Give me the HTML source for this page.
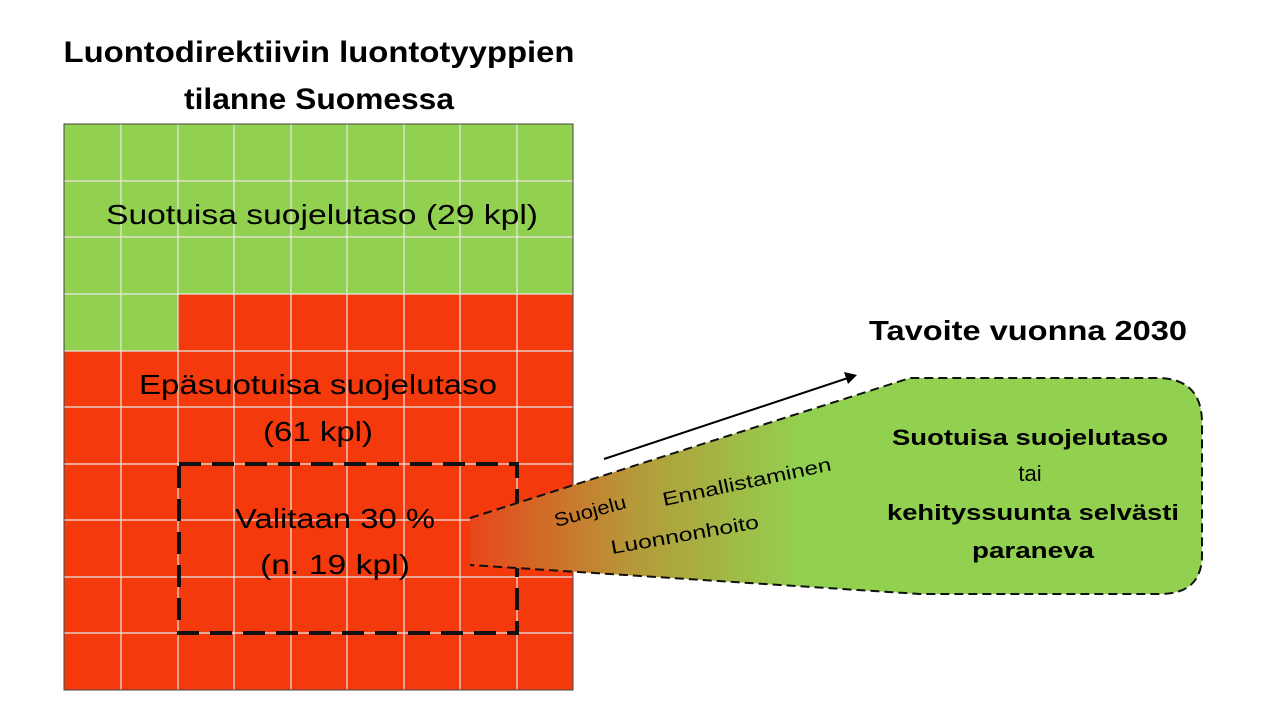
<!DOCTYPE html>
<html><head><meta charset="utf-8"><style>
html,body{margin:0;padding:0;background:#fff;}
svg{display:block;font-family:"Liberation Sans",sans-serif;}
</style></head><body>
<svg width="1280" height="720" viewBox="0 0 1280 720" xmlns="http://www.w3.org/2000/svg">
<defs>
<linearGradient id="g" x1="470" y1="0" x2="800" y2="0" gradientUnits="userSpaceOnUse">
<stop offset="0" stop-color="#e8461a"/>
<stop offset="0.5" stop-color="#b59a3a"/>
<stop offset="1" stop-color="#92d050"/>
</linearGradient>
</defs>
<text x="319" y="62" font-size="30" font-weight="bold" text-anchor="middle" textLength="511" lengthAdjust="spacingAndGlyphs">Luontodirektiivin luontotyyppien</text>
<text x="319" y="109" font-size="30" font-weight="bold" text-anchor="middle" textLength="270" lengthAdjust="spacingAndGlyphs">tilanne Suomessa</text>
<rect x="64" y="124" width="509" height="566" fill="#f4390d"/>
<rect x="64" y="124" width="509" height="170" fill="#92d050"/>
<rect x="64" y="294" width="114" height="57" fill="#92d050"/>
<g stroke="#e8e8e8" stroke-width="1.2">
<line x1="121" y1="124" x2="121" y2="690"/><line x1="178" y1="124" x2="178" y2="690"/>
<line x1="234" y1="124" x2="234" y2="690"/><line x1="291" y1="124" x2="291" y2="690"/>
<line x1="347" y1="124" x2="347" y2="690"/><line x1="404" y1="124" x2="404" y2="690"/>
<line x1="460" y1="124" x2="460" y2="690"/><line x1="517" y1="124" x2="517" y2="690"/>
<line x1="64" y1="181" x2="573" y2="181"/><line x1="64" y1="237" x2="573" y2="237"/>
<line x1="64" y1="294" x2="573" y2="294"/><line x1="64" y1="351" x2="573" y2="351"/>
<line x1="64" y1="407" x2="573" y2="407"/><line x1="64" y1="464" x2="573" y2="464"/>
<line x1="64" y1="520" x2="573" y2="520"/><line x1="64" y1="577" x2="573" y2="577"/>
<line x1="64" y1="633" x2="573" y2="633"/>
</g>
<rect x="64" y="124" width="509" height="566" fill="none" stroke="#444" stroke-width="1"/>
<text x="322" y="224" font-size="28" text-anchor="middle" textLength="432" lengthAdjust="spacingAndGlyphs">Suotuisa suojelutaso (29 kpl)</text>
<text x="318" y="394" font-size="28" text-anchor="middle" textLength="358" lengthAdjust="spacingAndGlyphs">Epäsuotuisa suojelutaso</text>
<text x="318" y="441" font-size="28" text-anchor="middle" textLength="110" lengthAdjust="spacingAndGlyphs">(61 kpl)</text>
<text x="335" y="528" font-size="28" text-anchor="middle" textLength="200" lengthAdjust="spacingAndGlyphs">Valitaan 30 %</text>
<text x="335" y="574" font-size="28" text-anchor="middle" textLength="150" lengthAdjust="spacingAndGlyphs">(n. 19 kpl)</text>
<rect x="179" y="464" width="338" height="169" fill="none" stroke="#111" stroke-width="4" stroke-dasharray="22,11"/>
<path d="M470,518 L910,378 L1157,378 Q1202,378 1202,423 L1202,555 Q1202,594 1160,594 L920,594 L470,565 Z" fill="url(#g)"/>
<path d="M470,518 L910,378 L1157,378 Q1202,378 1202,423 L1202,555 Q1202,594 1160,594 L920,594 L470,565" fill="none" stroke="#111" stroke-width="2" stroke-dasharray="9,5"/>
<line x1="604" y1="459" x2="848" y2="378" stroke="#000" stroke-width="2"/>
<polygon points="857,375 844,372 848,384" fill="#000"/>
<text x="1028" y="340" font-size="28" font-weight="bold" text-anchor="middle" textLength="318" lengthAdjust="spacingAndGlyphs">Tavoite vuonna 2030</text>
<text x="1030" y="445" font-size="22" font-weight="bold" text-anchor="middle" textLength="276" lengthAdjust="spacingAndGlyphs">Suotuisa suojelutaso</text>
<text x="1030" y="481" font-size="22" text-anchor="middle">tai</text>
<text x="1033" y="520" font-size="22" font-weight="bold" text-anchor="middle" textLength="292" lengthAdjust="spacingAndGlyphs">kehityssuunta selvästi</text>
<text x="1033" y="558" font-size="22" font-weight="bold" text-anchor="middle" textLength="122" lengthAdjust="spacingAndGlyphs">paraneva</text>
<text transform="translate(556,527) rotate(-15)" font-size="19" textLength="74" lengthAdjust="spacingAndGlyphs">Suojelu</text>
<text transform="translate(664,506) rotate(-12)" font-size="19" textLength="172" lengthAdjust="spacingAndGlyphs">Ennallistaminen</text>
<text transform="translate(612,554) rotate(-10)" font-size="19" textLength="150" lengthAdjust="spacingAndGlyphs">Luonnonhoito</text>
</svg>
</body></html>
